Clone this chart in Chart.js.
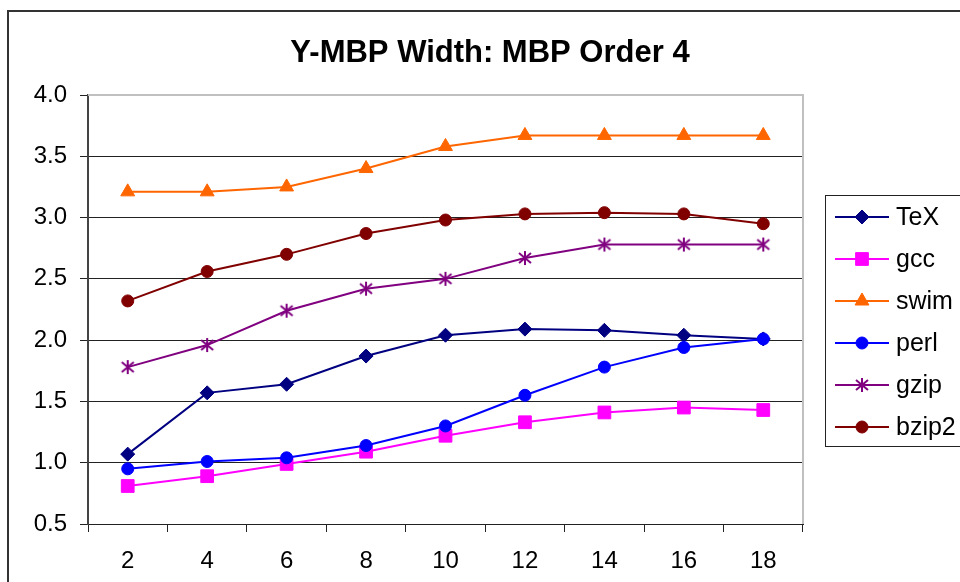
<!DOCTYPE html>
<html>
<head>
<meta charset="utf-8">
<title>Y-MBP Width: MBP Order 4</title>
<script src="https://cdn.jsdelivr.net/npm/chart.js@4.4.1/dist/chart.umd.min.js"></script>
<style>
  html, body { margin: 0; padding: 0; background: #fff; }
  #wrap { width: 960px; height: 582px; }
</style>
</head>
<body>
<div id="wrap"><canvas id="chart" width="960" height="582"></canvas></div>
<script>
// Window size (x axis) and measured Y-MBP width per benchmark
const categories = ['2', '4', '6', '8', '10', '12', '14', '16', '18'];
const texValues   = [1.07, 1.57, 1.64, 1.87, 2.04, 2.09, 2.08, 2.04, 2.01];
const gccValues   = [0.81, 0.89, 0.99, 1.09, 1.22, 1.33, 1.41, 1.45, 1.43];
const swimValues  = [3.21, 3.21, 3.25, 3.40, 3.58, 3.67, 3.67, 3.67, 3.67];
const perlValues  = [0.95, 1.01, 1.04, 1.14, 1.30, 1.55, 1.78, 1.94, 2.01];
const gzipValues  = [1.78, 1.96, 2.24, 2.42, 2.50, 2.67, 2.78, 2.78, 2.78];
const bzip2Values = [2.32, 2.56, 2.70, 2.87, 2.98, 3.03, 3.04, 3.03, 2.95];
const yTicks      = [0.5, 1.0, 1.5, 2.0, 2.5, 3.0, 3.5, 4.0];
const yTickLabels = ['0.5', '1.0', '1.5', '2.0', '2.5', '3.0', '3.5', '4.0'];
const seriesNames = ['TeX', 'gcc', 'swim', 'perl', 'gzip', 'bzip2'];
const chartTitle  = 'Y-MBP Width: MBP Order 4';

const FONT = '"Liberation Sans", Arial, Helvetica, sans-serif';
Chart.defaults.font.family = FONT;
Chart.defaults.color = '#000';

// six-armed asterisk marker
function asteriskMarker(color) {
  const c = document.createElement('canvas');
  c.width = 16; c.height = 16;
  const g = c.getContext('2d');
  g.strokeStyle = color;
  g.lineWidth = 2;
  g.beginPath();
  g.moveTo(8, 1); g.lineTo(8, 15);
  g.moveTo(2, 3); g.lineTo(14, 13);
  g.moveTo(14, 3); g.lineTo(2, 13);
  g.stroke();
  return c;
}

function series(name, values, color, style, radius, idx) {
  return {
    label: name,
    data: values,
    borderColor: color,
    backgroundColor: color,
    pointBackgroundColor: color,
    pointBorderColor: color,
    borderWidth: 2,
    pointStyle: style,
    pointRadius: radius,
    pointHoverRadius: radius,
    pointBorderWidth: 1,
    tension: 0,
    fill: false,
    order: 10 - idx
  };
}

const datasets = [
  series(seriesNames[0], texValues,   '#000080', 'rectRot',  7, 0),
  series(seriesNames[1], gccValues,   '#FF00FF', 'rect',     9, 1),
  series(seriesNames[2], swimValues,  '#FF6600', 'triangle', 8, 2),
  series(seriesNames[3], perlValues,  '#0000FF', 'circle',   6, 3),
  series(seriesNames[4], gzipValues,  '#800080', asteriskMarker('#800080'), 8, 4),
  series(seriesNames[5], bzip2Values, '#800000', 'circle',   6, 5)
];

// background, outer frame, title, plot frame and legend box
const decor = {
  id: 'decor',
  beforeDraw(chart) {
    const ctx = chart.ctx;
    ctx.save();
    ctx.fillStyle = '#fff';
    ctx.fillRect(0, 0, chart.width, chart.height);
    ctx.strokeStyle = '#333';
    ctx.lineWidth = 2;
    ctx.strokeRect(8, 11, 2000, 2000);
    ctx.fillStyle = '#000';
    ctx.font = 'bold 31px ' + FONT;
    ctx.textAlign = 'center';
    ctx.textBaseline = 'alphabetic';
    ctx.fillText(chartTitle, 490, 62);
    ctx.restore();
  },
  beforeDatasetsDraw(chart) {
    const a = chart.chartArea, ctx = chart.ctx;
    ctx.save();
    ctx.strokeStyle = '#c0c0c0';
    ctx.lineWidth = 2;
    ctx.beginPath();
    ctx.moveTo(a.left, a.top);
    ctx.lineTo(a.right, a.top);
    ctx.lineTo(a.right, a.bottom);
    ctx.stroke();
    ctx.restore();
  },
  afterDraw(chart) {
    const ctx = chart.ctx;
    ctx.save();
    ctx.fillStyle = '#fff';
    ctx.fillRect(825, 195, 200, 251);
    ctx.strokeStyle = '#222';
    ctx.lineWidth = 1;
    ctx.strokeRect(825.5, 195.5, 200, 251);
    ctx.font = '25px ' + FONT;
    ctx.textBaseline = 'middle';
    ctx.textAlign = 'left';
    chart.data.datasets.forEach((ds, i) => {
      const y = 217 + i * 42;
      ctx.strokeStyle = ds.borderColor;
      ctx.fillStyle = ds.backgroundColor;
      ctx.lineWidth = 2;
      ctx.beginPath();
      ctx.moveTo(835, y);
      ctx.lineTo(889, y);
      ctx.stroke();
      ctx.lineWidth = 1;
      Chart.helpers.drawPoint(ctx, {
        pointStyle: ds.pointStyle,
        radius: ds.pointRadius,
        rotation: 0,
        borderWidth: 1
      }, 862, y);
      ctx.fillStyle = '#000';
      ctx.fillText(ds.label, 896, y + 1);
    });
    ctx.restore();
  }
};

new Chart(document.getElementById('chart'), {
  type: 'line',
  data: { labels: categories, datasets },
  plugins: [decor],
  options: {
    responsive: false,
    animation: false,
    events: [],
    layout: { padding: { top: 95, right: 157, left: 0, bottom: 0 } },
    plugins: {
      legend: { display: false },
      title: { display: false },
      tooltip: { enabled: false }
    },
    scales: {
      x: {
        type: 'category',
        offset: true,
        afterFit(s) { s.height = 58; },
        grid: {
          offset: true,
          drawOnChartArea: false,
          drawTicks: true,
          tickLength: 8,
          color: '#222',
          lineWidth: 1
        },
        border: { color: '#222', width: 1 },
        ticks: { font: { size: 24 }, padding: 15, color: '#000', maxRotation: 0 }
      },
      y: {
        min: 0.5,
        max: 4.0,
        afterFit(s) { s.width = 88; },
        afterBuildTicks(s) { s.ticks = yTicks.map(v => ({ value: v })); },
        grid: {
          color: ctx => (ctx.tick && ctx.tick.value === 4.0) ? '#c0c0c0' : '#222',
          tickColor: '#222',
          lineWidth: 1,
          tickLength: 8,
          drawTicks: true
        },
        border: { color: '#444', width: 2 },
        ticks: {
          font: { size: 24 },
          padding: 13,
          color: '#000',
          callback: (v, i) => yTickLabels[i]
        }
      }
    }
  }
});
</script>
</body>
</html>
